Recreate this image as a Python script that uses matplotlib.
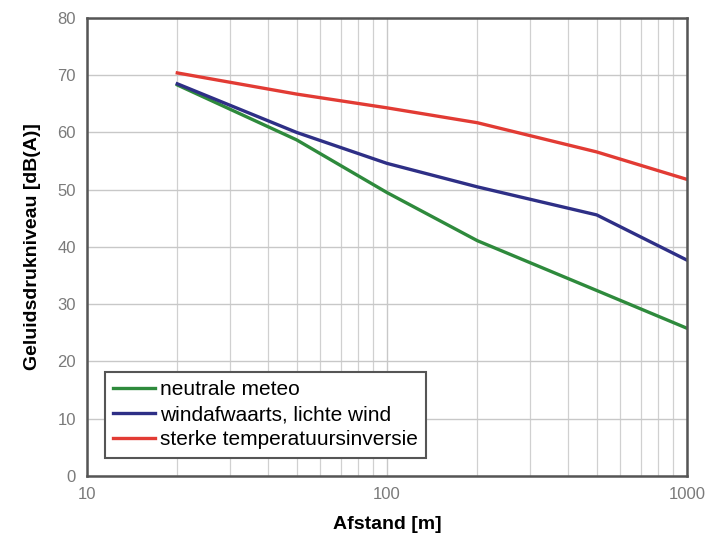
import numpy as np
import matplotlib.pyplot as plt

plt.rcParams["font.family"] = ["Liberation Sans", "DejaVu Sans"]

afstand = [20, 50, 100, 200, 500, 1000]
neutraal = [68.3, 58.7, 49.5, 41.1, 32.4, 25.8]
windaf = [68.5, 60.0, 54.6, 50.5, 45.6, 37.7]
inversie = [70.4, 66.7, 64.3, 61.7, 56.6, 51.8]

labels = ["neutrale meteo", "windafwaarts, lichte wind", "sterke temperatuursinversie"]
colors = ["#2e8a3c", "#2e2f86", "#e23b34"]

fig = plt.figure(figsize=(7.09, 5.44), dpi=100)
ax = fig.add_axes([0.1227, 0.125, 0.8463, 0.842])

for y, lab, c in zip([neutraal, windaf, inversie], labels, colors):
    ax.plot(afstand, y, color=c, lw=2.4, label=lab)

ax.set_xscale("log")
ax.set_xlim(10, 1000)
ax.set_ylim(0, 80)
ax.set_yticks(np.arange(0, 81, 10))
ax.set_xticks([10, 100, 1000])
ax.set_xticklabels(["10", "100", "1000"])

ax.grid(True, which="major", color="#c8c8c8", lw=1.0)
ax.grid(True, which="minor", axis="x", color="#d0d0d0", lw=0.9)
ax.set_axisbelow(True)
ax.tick_params(which="both", length=0, labelsize=12, labelcolor="#7a7a7a", pad=8)

for s in ax.spines.values():
    s.set_color("#555555")
    s.set_linewidth(1.8)

ax.set_xlabel("Afstand [m]", fontsize=14, fontweight="bold", labelpad=10)
ax.set_ylabel("Geluidsdrukniveau [dB(A)]", fontsize=14, fontweight="bold", labelpad=12)

leg = ax.legend(loc="lower left", bbox_to_anchor=(0.03, 0.04), borderaxespad=0,
                fontsize=15, handlelength=2.0, handletextpad=0.25, labelspacing=0.3,
                borderpad=0.4, fancybox=False, framealpha=1)
leg.get_frame().set_edgecolor("#555555")
leg.get_frame().set_linewidth(1.5)

fig.savefig("out.png", dpi=100)
